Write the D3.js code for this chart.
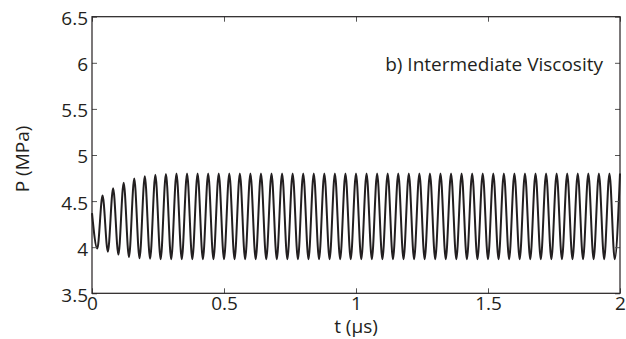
<!DOCTYPE html>
<html>
<head>
<meta charset="utf-8">
<script src="https://cdn.jsdelivr.net/npm/d3@7"></script>
<style>
  body { margin: 0; background: #fff; }
  svg text { font-family: "Open Sans", sans-serif; fill: #231f20; }
</style>
</head>
<body>
<div id="chart"></div>
<script>
// ticks
const tTicks = [0, 0.5, 1, 1.5, 2];
const pTicks = [3.5, 4, 4.5, 5, 5.5, 6, 6.5];

// local maxima (t in us, P in MPa)
const peakT = [0.00, 0.04, 0.08, 0.12, 0.16, 0.20, 0.24, 0.28, 0.32, 0.36,
  0.40, 0.44, 0.48, 0.52, 0.56, 0.60, 0.64, 0.68, 0.72, 0.76,
  0.80, 0.84, 0.88, 0.92, 0.96, 1.00, 1.04, 1.08, 1.12, 1.16,
  1.20, 1.24, 1.28, 1.32, 1.36, 1.40, 1.44, 1.48, 1.52, 1.56,
  1.60, 1.64, 1.68, 1.72, 1.76, 1.80, 1.84, 1.88, 1.92, 1.96, 2.00];
const peakP = [4.37, 4.56, 4.64, 4.70, 4.745, 4.77, 4.785, 4.795, 4.80, 4.80,
  4.80, 4.80, 4.80, 4.80, 4.80, 4.80, 4.80, 4.80, 4.80, 4.80,
  4.80, 4.80, 4.80, 4.80, 4.80, 4.80, 4.80, 4.80, 4.80, 4.80,
  4.80, 4.80, 4.80, 4.80, 4.80, 4.80, 4.80, 4.80, 4.80, 4.80,
  4.80, 4.80, 4.80, 4.80, 4.80, 4.80, 4.80, 4.80, 4.80, 4.80, 4.80];

// local minima
const troughT = [0.02, 0.06, 0.10, 0.14, 0.18, 0.22, 0.26, 0.30, 0.34, 0.38,
  0.42, 0.46, 0.50, 0.54, 0.58, 0.62, 0.66, 0.70, 0.74, 0.78,
  0.82, 0.86, 0.90, 0.94, 0.98, 1.02, 1.06, 1.10, 1.14, 1.18,
  1.22, 1.26, 1.30, 1.34, 1.38, 1.42, 1.46, 1.50, 1.54, 1.58,
  1.62, 1.66, 1.70, 1.74, 1.78, 1.82, 1.86, 1.90, 1.94, 1.98];
const troughP = [3.985, 3.95, 3.92, 3.895, 3.88, 3.875, 3.87, 3.87, 3.87, 3.87,
  3.87, 3.87, 3.87, 3.87, 3.87, 3.87, 3.87, 3.87, 3.87, 3.87,
  3.87, 3.87, 3.87, 3.87, 3.87, 3.87, 3.87, 3.87, 3.87, 3.87,
  3.87, 3.87, 3.87, 3.87, 3.87, 3.87, 3.87, 3.87, 3.87, 3.87,
  3.87, 3.87, 3.87, 3.87, 3.87, 3.87, 3.87, 3.87, 3.87, 3.87];

const W = 626, H = 339;
const margin = { top: 16.7, right: 6, bottom: 45.7, left: 92 };
const width = W - margin.left - margin.right,
      height = H - margin.top - margin.bottom;

const svg = d3.select("#chart").append("svg")
  .attr("width", W).attr("height", H);
const g = svg.append("g")
  .attr("transform", `translate(${margin.left},${margin.top})`);

const x = d3.scaleLinear().domain([0, 2]).range([0, width]);
const y = d3.scaleLinear().domain([3.5, 6.5]).range([height, 0]);

// merge extrema into one series
let pts = peakT.map((t, i) => ({ t: t, p: peakP[i] }))
  .concat(troughT.map((t, i) => ({ t: t, p: troughP[i] })));
pts.sort((a, b) => a.t - b.t);

const line = d3.line()
  .x(d => x(d.t))
  .y(d => y(d.p))
  .curve(d3.curveMonotoneX);

g.append("path")
  .datum(pts)
  .attr("fill", "none")
  .attr("stroke", "#231f20")
  .attr("stroke-width", 2)
  .attr("d", line);

// axes, ticks pointing inward (matlab style)
const fmt = d3.format("~g");
const xb = g.append("g").attr("transform", `translate(0,${height})`)
  .call(d3.axisBottom(x).tickValues(tTicks).tickFormat(fmt).tickSize(-5).tickPadding(3));
const yl = g.append("g")
  .call(d3.axisLeft(y).tickValues(pTicks).tickFormat(fmt).tickSize(-5).tickPadding(4));
g.append("g")
  .call(d3.axisTop(x).tickValues(tTicks).tickFormat("").tickSize(-5));
g.append("g").attr("transform", `translate(${width},0)`)
  .call(d3.axisRight(y).tickValues(pTicks).tickFormat("").tickSize(-5));

g.selectAll(".domain").remove();
g.selectAll(".tick line").attr("stroke", "#555");
g.selectAll(".tick text").style("font-size", "19px").attr("fill", "#231f20");
yl.selectAll(".tick text").attr("dy", "0.42em");

g.append("rect")
  .attr("width", width).attr("height", height)
  .attr("fill", "none").attr("stroke", "#231f20").attr("stroke-width", 1.2);

// labels
g.append("text")
  .attr("x", width / 2).attr("y", height + 40)
  .attr("text-anchor", "middle")
  .style("font-size", "19px")
  .text("t (μs)");

g.append("text")
  .attr("transform", "rotate(-90)")
  .attr("x", -(159 - margin.top)).attr("y", -63)
  .attr("text-anchor", "middle")
  .style("font-size", "19px")
  .text("P (MPa)");

g.append("text")
  .attr("x", 603 - margin.left).attr("y", 71 - margin.top)
  .attr("text-anchor", "end")
  .style("font-size", "19px")
  .text("b) Intermediate Viscosity");
</script>
</body>
</html>
